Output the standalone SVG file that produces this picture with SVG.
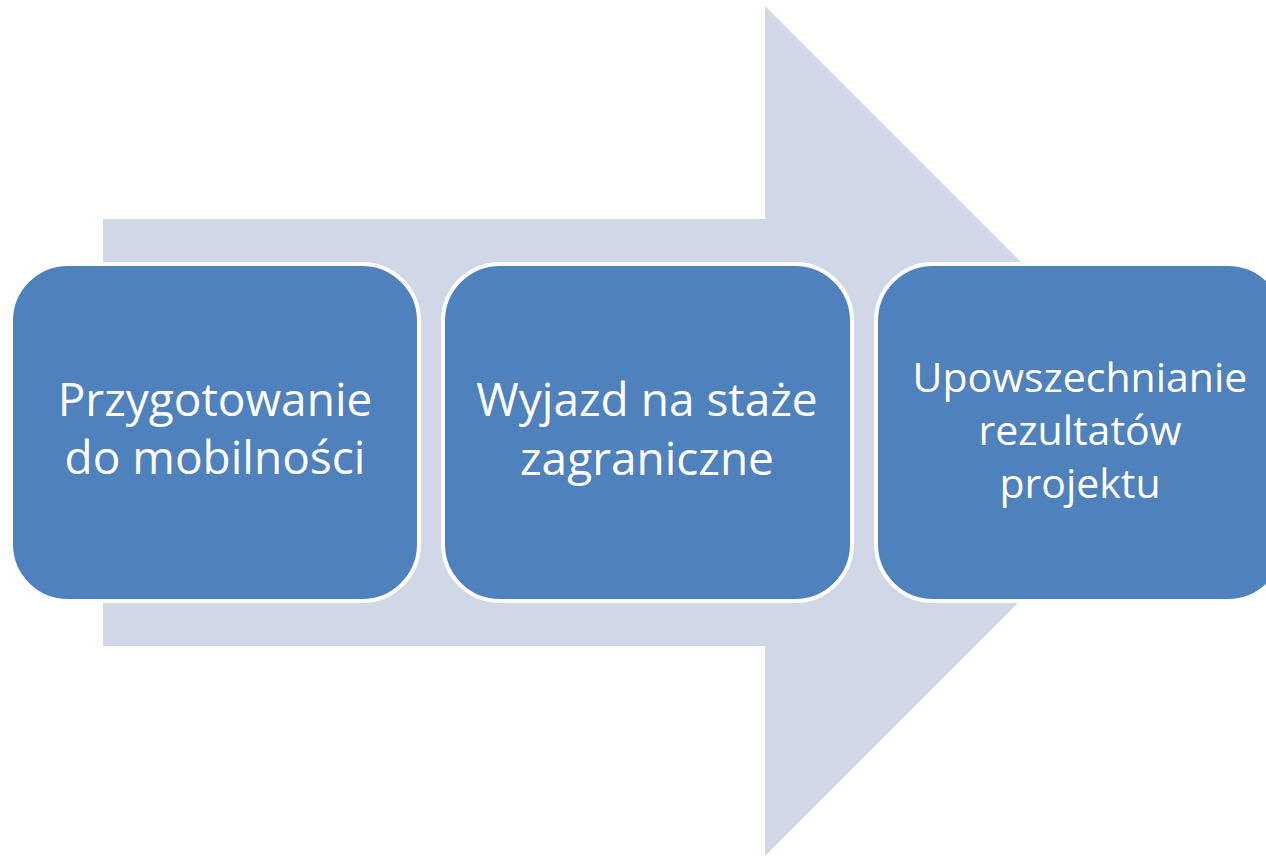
<svg xmlns="http://www.w3.org/2000/svg" width="1266" height="857" viewBox="0 0 1266 857">
<style>
.box{fill:#4F81BD;stroke:#FFFFFF;stroke-width:4}
.lbl{font-family:"Open Sans","Liberation Sans",sans-serif;font-size:41px;fill:#FFFFFF;text-anchor:middle}
.big{font-size:46px}
</style>
<rect width="1266" height="857" fill="#FFFFFF"/>
<g id="connectors">
<polygon points="103,219 765,219 765,6 1190,431 765,856 765,646 103,646" fill="#D0D8E8"/>
</g>
<g id="node1">
<rect class="box" x="11" y="264" width="408" height="337" rx="57" ry="57"/>
<text class="lbl big" x="215" y="416">Przygotowanie</text>
<text class="lbl big" x="215" y="474">do mobilności</text>
</g>
<g id="node2">
<rect class="box" x="443" y="264" width="409" height="337" rx="57" ry="57"/>
<text class="lbl big" x="647" y="416">Wyjazd na staże</text>
<text class="lbl big" x="647" y="475">zagraniczne</text>
</g>
<g id="node3">
<rect class="box" x="876" y="264" width="409" height="337" rx="57" ry="57"/>
<text class="lbl" x="1080" y="392">Upowszechnianie</text>
<text class="lbl" x="1080" y="445">rezultatów</text>
<text class="lbl" x="1080" y="498">projektu</text>
</g>
</svg>
